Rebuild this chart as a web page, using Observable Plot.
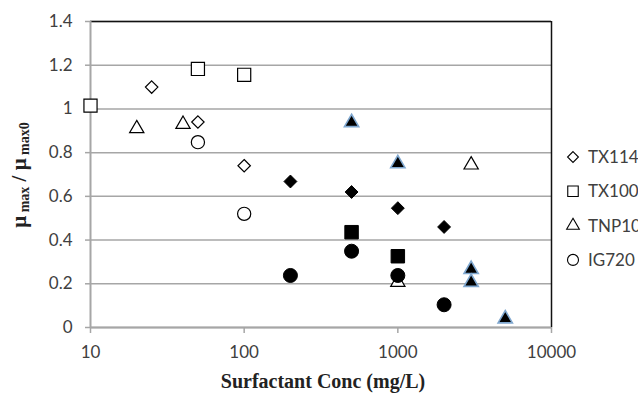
<!DOCTYPE html>
<html><head><meta charset="utf-8">
<script src="https://cdn.jsdelivr.net/npm/d3@7"></script>
<script src="https://cdn.jsdelivr.net/npm/@observablehq/plot@0.6"></script>
<style>body{margin:0;background:#fff;}</style>
</head><body><div id="chart"></div>
<script>
// Data (concentration in mg/L, relative mu_max)
const seriesNames = ["TX114", "TX100", "TNP10", "IG720"];

const tx114OpenConc = [25, 50, 100];
const tx114OpenVal  = [1.10, 0.94, 0.74];
const tx114FillConc = [200, 500, 1000, 2000];
const tx114FillVal  = [0.668, 0.62, 0.546, 0.46];

const tx100OpenConc = [10, 50, 100];
const tx100OpenVal  = [1.015, 1.183, 1.156];
const tx100FillConc = [500, 1000];
const tx100FillVal  = [0.436, 0.326];

const tnp10OpenConc = [20, 40, 1000, 3000];
const tnp10OpenVal  = [0.91, 0.93, 0.207, 0.744];
const tnp10FillConc = [500, 1000, 3000, 3000, 5000];
const tnp10FillVal  = [0.938, 0.75, 0.266, 0.207, 0.04];

const ig720OpenConc = [50, 100];
const ig720OpenVal  = [0.848, 0.52];
const ig720FillConc = [200, 500, 1000, 2000];
const ig720FillVal  = [0.238, 0.349, 0.238, 0.104];

const xTicks = [10, 100, 1000, 10000];
const yTicks = [0, 0.2, 0.4, 0.6, 0.8, 1, 1.2, 1.4];

const pts = (cs, vs) => cs.map((c, i) => ({c, v: vs[i]}));

const gridColor = "#a6a6a6";
const textColor = "#404040";
const triEdge = "#7fa7cf";

const openStyle = {fill: "white", stroke: "black", strokeWidth: 1.2};
const fillStyle = {fill: "black", stroke: "black", strokeWidth: 1};

const chart = Plot.plot({
  width: 638, height: 393,
  marginLeft: 90, marginRight: 87, marginTop: 21, marginBottom: 66,
  style: {fontFamily: "Lato, sans-serif", fontSize: "17px", color: textColor, background: "white", overflow: "visible"},
  x: {type: "log", domain: [10, 10000]},
  y: {domain: [0, 1.4]},
  marks: [
    Plot.gridY(yTicks, {stroke: gridColor, strokeOpacity: 1, strokeWidth: 1.5}),
    Plot.ruleY([1.4], {stroke: "#111", strokeWidth: 1.5}),
    Plot.ruleX([10000], {stroke: "#111", strokeWidth: 1.5}),
    Plot.ruleX([10], {stroke: gridColor, strokeWidth: 2}),
    Plot.ruleY([0], {stroke: gridColor, strokeWidth: 2}),
    Plot.axisY(yTicks, {tickSize: 5, tickPadding: 13, stroke: gridColor, strokeWidth: 1.5, fill: textColor,
      tickFormat: d => String(+d.toFixed(1)), label: null}),
    Plot.axisX(xTicks, {tickSize: 6, tickPadding: 12, stroke: gridColor, strokeWidth: 1.5, fill: textColor,
      tickFormat: d => String(d), label: null}),
    // TX114 diamonds
    Plot.dot(pts(tx114OpenConc, tx114OpenVal), {x: "c", y: "v", symbol: "diamond2", r: 5.6, ...openStyle}),
    Plot.dot(pts(tx114FillConc, tx114FillVal), {x: "c", y: "v", symbol: "diamond2", r: 5.8, ...fillStyle}),
    // TX100 squares
    Plot.dot(pts(tx100OpenConc, tx100OpenVal), {x: "c", y: "v", symbol: "square", r: 7.4, ...openStyle}),
    Plot.dot(pts(tx100FillConc, tx100FillVal), {x: "c", y: "v", symbol: "square", r: 7.6, ...fillStyle}),
    // TNP10 triangles
    Plot.dot(pts(tnp10OpenConc, tnp10OpenVal), {x: "c", y: "v", symbol: "triangle", r: 5.3, ...openStyle}),
    Plot.dot(pts(tnp10FillConc, tnp10FillVal), {x: "c", y: "v", symbol: "triangle", r: 5.3, fill: "black", stroke: triEdge, strokeWidth: 1.6}),
    // IG720 circles
    Plot.dot(pts(ig720OpenConc, ig720OpenVal), {x: "c", y: "v", symbol: "circle", r: 6.6, ...openStyle}),
    Plot.dot(pts(ig720FillConc, ig720FillVal), {x: "c", y: "v", symbol: "circle", r: 7, ...fillStyle})
  ]
});

document.getElementById("chart").appendChild(chart);

const svg = d3.select(chart);

// X axis title
svg.append("text")
  .attr("x", 323).attr("y", 388)
  .attr("text-anchor", "middle")
  .style("font-family", "'Liberation Serif', 'Times New Roman', serif")
  .style("font-weight", "bold").style("font-size", "20px").attr("fill", "#222")
  .text("Surfactant Conc (mg/L)");

// Y axis title with subscripts
const yl = svg.append("text")
  .attr("transform", "translate(26,175) rotate(-90)")
  .attr("text-anchor", "middle")
  .style("font-family", "'Liberation Serif', 'Times New Roman', serif")
  .style("font-weight", "bold").style("font-size", "21px").attr("fill", "#222");
yl.append("tspan").text("μ");
yl.append("tspan").attr("dy", 3).style("font-size", "14px").text(" max");
yl.append("tspan").attr("dy", -3).text(" / ");
yl.append("tspan").text("μ");
yl.append("tspan").attr("dy", 3).style("font-size", "14px").text(" max0");

// Legend
const legendSymbols = [d3.symbolDiamond2, d3.symbolSquare, d3.symbolTriangle, d3.symbolCircle];
const legendSizes = [75, 110, 70, 95];
const legend = svg.append("g").attr("text-anchor", "start");
seriesNames.forEach((name, i) => {
  const y = 157 + i * 34.3;
  legend.append("path")
    .attr("transform", `translate(573,${y})`)
    .attr("d", d3.symbol(legendSymbols[i], legendSizes[i])())
    .attr("fill", "white").attr("stroke", "black").attr("stroke-width", 1.1);
  legend.append("text")
    .attr("x", 588).attr("y", y).attr("dy", "0.36em")
    .attr("text-anchor", "start")
    .style("font-family", "Lato, sans-serif").style("font-size", "17px").attr("fill", textColor)
    .text(name);
});
</script>
</body></html>
